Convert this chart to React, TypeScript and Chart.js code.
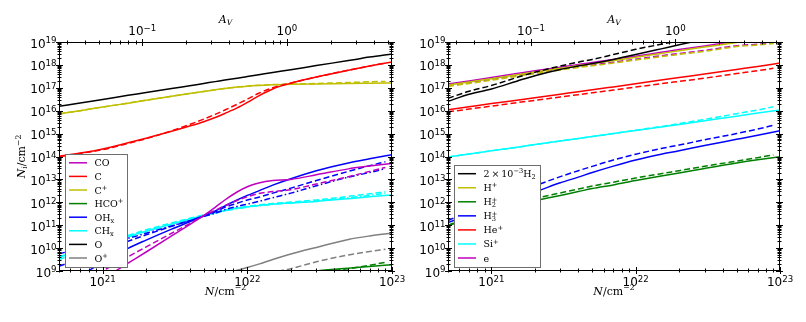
import React, { useEffect, useRef } from 'react';
import { Chart, registerables } from 'chart.js';
Chart.register(...registerables);

// ---------- axes ----------
const N_MIN = 5e20;
const N_MAX = 1e23;
const Y_MIN = 1e9;
const Y_MAX = 1e19;
const N_PER_AV = 1.88e22; // top axis: A_V = N / N_PER_AV
const Y_MAJOR_EXP = [9, 10, 11, 12, 13, 14, 15, 16, 17, 18, 19];
const X_MAJOR_EXP = [20, 21, 22, 23];
const AV_MAJOR_EXP = [-2, -1, 0, 1];

// ---------- column grid (cm^-2) ----------
const N_L = [5e20, 7e20, 1e21, 1.5e21, 2e21, 3e21, 4e21, 5e21, 6e21, 7e21, 8.5e21, 1e22, 1.2e22, 1.5e22, 2e22, 3e22, 5e22, 7e22, 1e23];
const N_LD = [5e20, 7e20, 1e21, 1.5e21, 2e21, 3e21, 4e21, 5e21, 6e21, 7e21, 8.5e21, 1e22, 1.2e22, 1.5e22, 2e22, 3e22, 5e22, 7e22, 9e22];
const N_R = [5e20, 7e20, 1e21, 1.5e21, 2e21, 3e21, 4e21, 5e21, 7e21, 1e22, 1.5e22, 2e22, 3e22, 5e22, 7e22, 1e23];
const N_RD = [5e20, 7e20, 1e21, 1.5e21, 2e21, 3e21, 4e21, 5e21, 7e21, 1e22, 1.5e22, 2e22, 3e22, 5e22, 7e22, 9e22];

// ---------- left panel: log10 N_i ----------
const CO_S = [7.45, 8.02, 8.64, 9.34, 9.83, 10.53, 11.03, 11.42, 11.78, 12.1, 12.45, 12.68, 12.84, 12.95, 13.0, 13.2, 13.46, 13.58, 13.7];
const CO_D = [7.9, 8.45, 9.0, 9.62, 10.05, 10.65, 11.07, 11.42, 11.65, 11.85, 12.08, 12.24, 12.38, 12.47, 12.55, 12.8, 13.12, 13.35, 13.52];
const C_S = [14.01, 14.15, 14.33, 14.6, 14.8, 15.1, 15.33, 15.52, 15.7, 15.88, 16.12, 16.36, 16.65, 16.95, 17.2, 17.47, 17.77, 17.95, 18.13];
const C_D = [13.99, 14.13, 14.3, 14.57, 14.78, 15.12, 15.4, 15.63, 15.84, 16.03, 16.28, 16.5, 16.76, 17.0, 17.21, 17.47, 17.77, 17.95, 18.08];
const CP_S = [15.86, 16.0, 16.16, 16.33, 16.46, 16.63, 16.75, 16.84, 16.91, 16.97, 17.03, 17.07, 17.1, 17.13, 17.15, 17.17, 17.19, 17.2, 17.21];
const CP_D = [15.86, 16.0, 16.16, 16.33, 16.46, 16.63, 16.75, 16.84, 16.91, 16.97, 17.03, 17.07, 17.11, 17.14, 17.16, 17.19, 17.23, 17.26, 17.28];
const HCOP_S = [5.5, 5.8, 6.1, 6.5, 6.8, 7.2, 7.45, 7.65, 7.8, 7.95, 8.15, 8.3, 8.42, 8.55, 8.75, 9.0, 9.12, 9.2, 9.27];
const HCOP_D = [5.4, 5.7, 6.0, 6.4, 6.7, 7.1, 7.35, 7.55, 7.7, 7.85, 8.05, 8.2, 8.32, 8.45, 8.6, 8.9, 9.1, 9.25, 9.38];
const OH_S = [8.3, 8.8, 9.38, 9.99, 10.35, 10.83, 11.15, 11.4, 11.62, 11.84, 12.1, 12.3, 12.5, 12.75, 13.03, 13.38, 13.72, 13.9, 14.08];
const OH_D = [9.2, 9.55, 9.9, 10.3, 10.58, 10.95, 11.2, 11.4, 11.58, 11.78, 11.96, 12.1, 12.22, 12.4, 12.62, 12.95, 13.35, 13.6, 13.77];
const OH_DD = [9.75, 9.98, 10.2, 10.43, 10.65, 10.97, 11.2, 11.38, 11.52, 11.68, 11.82, 11.92, 12.04, 12.2, 12.4, 12.72, 13.1, 13.3, 13.47];
const CH_S = [9.6, 9.9, 10.2, 10.5, 10.75, 11.05, 11.27, 11.42, 11.55, 11.64, 11.74, 11.8, 11.86, 11.92, 11.97, 12.04, 12.16, 12.24, 12.32];
const CH_D = [9.62, 9.93, 10.24, 10.55, 10.8, 11.1, 11.3, 11.45, 11.57, 11.66, 11.76, 11.82, 11.88, 11.95, 12.01, 12.1, 12.26, 12.37, 12.46];
const CH_DD = [9.5, 9.83, 10.15, 10.47, 10.72, 11.03, 11.25, 11.4, 11.52, 11.62, 11.72, 11.79, 11.85, 11.91, 11.97, 12.06, 12.2, 12.3, 12.4];
const O_S = [16.19, 16.34, 16.49, 16.67, 16.79, 16.97, 17.09, 17.19, 17.27, 17.34, 17.42, 17.49, 17.57, 17.67, 17.79, 17.97, 18.19, 18.34, 18.48];
const OP_S = [6.5, 6.8, 7.1, 7.4, 7.65, 8.0, 8.3, 8.55, 8.75, 8.85, 9.03, 9.15, 9.3, 9.5, 9.74, 10.03, 10.38, 10.53, 10.65];
const OP_D = [5.5, 5.8, 6.1, 6.5, 6.8, 7.2, 7.45, 7.6, 7.75, 7.9, 8.1, 8.25, 8.45, 8.9, 9.1, 9.4, 9.7, 9.85, 9.95];

// ---------- right panel: log10 N_i ----------
const H2_S = [16.41, 16.72, 16.95, 17.29, 17.53, 17.8, 17.95, 18.06, 18.24, 18.45, 18.7, 18.88, 19.12, 19.4, 19.55, 19.7];
const H2_D = [16.54, 16.85, 17.1, 17.45, 17.68, 17.95, 18.12, 18.24, 18.45, 18.68, 18.9, 19.05, 19.25, 19.5, 19.65, 19.75];
const HP_S = [17.12, 17.25, 17.4, 17.57, 17.69, 17.85, 17.97, 18.05, 18.19, 18.33, 18.5, 18.62, 18.78, 18.98, 19.1, 19.25];
const HP_D = [17.06, 17.19, 17.33, 17.5, 17.62, 17.78, 17.89, 17.96, 18.08, 18.21, 18.36, 18.46, 18.59, 18.8, 18.87, 18.93];
const H2P_S = [10.97, 11.3, 11.6, 11.9, 12.07, 12.3, 12.47, 12.6, 12.76, 12.95, 13.15, 13.28, 13.48, 13.72, 13.86, 13.99];
const H2P_D = [11.0, 11.35, 11.67, 11.99, 12.17, 12.41, 12.58, 12.71, 12.88, 13.06, 13.25, 13.38, 13.57, 13.8, 13.95, 14.07];
const H3P_S = [11.12, 11.45, 11.8, 12.2, 12.45, 12.85, 13.1, 13.3, 13.58, 13.85, 14.1, 14.25, 14.48, 14.75, 14.93, 15.13];
const H3P_D = [11.2, 11.62, 12.02, 12.45, 12.72, 13.12, 13.38, 13.57, 13.85, 14.1, 14.35, 14.5, 14.73, 15.0, 15.2, 15.36];
const HEP_S = [16.04, 16.17, 16.31, 16.46, 16.57, 16.72, 16.83, 16.91, 17.04, 17.18, 17.34, 17.45, 17.6, 17.8, 17.93, 18.08];
const HEP_D = [15.95, 16.07, 16.2, 16.35, 16.45, 16.6, 16.7, 16.78, 16.9, 17.03, 17.18, 17.28, 17.42, 17.62, 17.75, 17.85];
const SIP_S = [13.98, 14.11, 14.25, 14.4, 14.52, 14.68, 14.79, 14.87, 15.0, 15.14, 15.29, 15.4, 15.56, 15.76, 15.9, 16.03];
const SIP_D = [13.98, 14.11, 14.25, 14.4, 14.52, 14.68, 14.79, 14.87, 15.0, 15.15, 15.31, 15.44, 15.62, 15.87, 16.03, 16.17];
const E_S = [17.17, 17.3, 17.45, 17.62, 17.74, 17.9, 18.02, 18.1, 18.24, 18.38, 18.55, 18.67, 18.83, 19.03, 19.15, 19.3];
const E_D = [17.1, 17.23, 17.37, 17.54, 17.66, 17.82, 17.93, 18.0, 18.12, 18.25, 18.4, 18.5, 18.63, 18.84, 18.9, 18.96];

// ---------- styles ----------
const MAG = '#bf00bf';
const RED = '#ff0000';
const OLIVE = '#bfbf00';
const GREEN = '#008000';
const BLUE = '#0000ff';
const CYAN = '#00ffff';
const BLACK = '#000000';
const GRAY = '#808080';
const SOLID: number[] = [];
const DASHED = [6, 3];
const DASHDOT = [6, 2.5, 1.5, 2.5];
const SERIF = '"DejaVu Serif", serif';
const SANS = '"DejaVu Sans", sans-serif';

type Series = [string, string, number[], number[], number[]];
const LEFT_SERIES: Series[] = [
  ['CO', MAG, SOLID, N_L, CO_S], ['CO', MAG, DASHED, N_LD, CO_D],
  ['C', RED, SOLID, N_L, C_S], ['C', RED, DASHED, N_LD, C_D],
  ['C+', OLIVE, SOLID, N_L, CP_S], ['C+', OLIVE, DASHED, N_LD, CP_D],
  ['HCO+', GREEN, SOLID, N_L, HCOP_S], ['HCO+', GREEN, DASHED, N_LD, HCOP_D],
  ['OHx', BLUE, SOLID, N_L, OH_S], ['OHx', BLUE, DASHED, N_LD, OH_D], ['OHx', BLUE, DASHDOT, N_LD, OH_DD],
  ['CHx', CYAN, SOLID, N_L, CH_S], ['CHx', CYAN, DASHED, N_LD, CH_D], ['CHx', CYAN, DASHDOT, N_LD, CH_DD],
  ['O', BLACK, SOLID, N_L, O_S],
  ['O+', GRAY, SOLID, N_L, OP_S], ['O+', GRAY, DASHED, N_LD, OP_D],
];
const RIGHT_SERIES: Series[] = [
  ['2e-3 H2', BLACK, SOLID, N_R, H2_S], ['2e-3 H2', BLACK, DASHED, N_RD, H2_D],
  ['H+', OLIVE, SOLID, N_R, HP_S], ['H+', OLIVE, DASHED, N_RD, HP_D],
  ['H2+', GREEN, SOLID, N_R, H2P_S], ['H2+', GREEN, DASHED, N_RD, H2P_D],
  ['H3+', BLUE, SOLID, N_R, H3P_S], ['H3+', BLUE, DASHED, N_RD, H3P_D],
  ['He+', RED, SOLID, N_R, HEP_S], ['He+', RED, DASHED, N_RD, HEP_D],
  ['Si+', CYAN, SOLID, N_R, SIP_S], ['Si+', CYAN, DASHED, N_RD, SIP_D],
  ['e', MAG, SOLID, N_R, E_S], ['e', MAG, DASHED, N_RD, E_D],
];
const LEFT_LEGEND: [string, string][] = [
  ['CO', MAG], ['C', RED], ['C^+', OLIVE], ['HCO^+', GREEN], ['OH_x', BLUE], ['CH_x', CYAN], ['O', BLACK], ['O^+', GRAY],
];
const RIGHT_LEGEND: [string, string][] = [
  ['2\u2009\u00d7\u200910^{\u22123}H_2', BLACK], ['H^+', OLIVE], ['H_2^+', GREEN], ['H_3^+', BLUE], ['He^+', RED], ['Si^+', CYAN], ['e', MAG],
];
const X_TITLE = '$N$/cm^{\u22122}';
const Y_TITLE = '$N_i$/cm^{\u22122}';
const TOP_TITLE = '$A_V$';

// ---------- helpers ----------
function isPow10(v: number) {
  const l = Math.log10(v);
  return Math.abs(l - Math.round(l)) < 1e-6;
}
function pow10Label(v: number) {
  const e = Math.round(Math.log10(v));
  return '10^{' + String(e).replace('-', '\u2212') + '}';
}
function logTicks(exps: number[], min: number, max: number) {
  const out: { value: number }[] = [];
  for (const e of exps) {
    for (let m = 1; m <= 9; m++) {
      const v = parseFloat((m * Math.pow(10, e)).toPrecision(8));
      if (v >= min * (1 - 1e-9) && v <= max * (1 + 1e-9)) out.push({ value: v });
    }
  }
  return out;
}

type Seg = { t: string; k: 'n' | 'sub' | 'sup'; it: boolean };
function parseMath(s: string): Seg[] {
  const out: Seg[] = [];
  let it = false;
  let buf = '';
  const flush = () => {
    if (buf) { out.push({ t: buf, k: 'n', it }); buf = ''; }
  };
  for (let i = 0; i < s.length; i++) {
    const c = s[i];
    if (c === '$') { flush(); it = !it; continue; }
    if (c === '^' || c === '_') {
      flush();
      let t = '';
      if (s[i + 1] === '{') { const j = s.indexOf('}', i + 2); t = s.slice(i + 2, j); i = j; }
      else { t = s[i + 1]; i++; }
      out.push({ t, k: c === '^' ? 'sup' : 'sub', it });
      continue;
    }
    buf += c;
  }
  flush();
  return out;
}
type MathOpts = { supRaise?: number; subDrop?: number; scale?: number };
function layoutMath(ctx: CanvasRenderingContext2D, s: string, size: number, family: string, mo: MathOpts = {}) {
  const supRaise = mo.supRaise ?? 0.4;
  const subDrop = mo.subDrop ?? 0.22;
  const scale = mo.scale ?? 0.7;
  const segs = parseMath(s);
  const items: { t: string; x: number; dy: number; font: string }[] = [];
  let x = 0;
  let prev: { k: string; x0: number; x1: number } | null = null;
  for (const g of segs) {
    const fs = g.k === 'n' ? size : size * scale;
    const font = `${g.it ? 'italic ' : ''}${fs}px ${family}`;
    ctx.font = font;
    const w = ctx.measureText(g.t).width;
    let x0 = x;
    if (g.k !== 'n' && prev && prev.k !== 'n' && prev.k !== g.k) {
      x0 = prev.x0;
      x = Math.max(prev.x1, x0 + w);
    } else {
      x = x0 + w;
    }
    const dy = g.k === 'sup' ? -supRaise * size : g.k === 'sub' ? subDrop * size : 0;
    items.push({ t: g.t, x: x0, dy, font });
    prev = { k: g.k, x0, x1: x0 + w };
  }
  return { items, width: x };
}
function drawMath(ctx: CanvasRenderingContext2D, s: string, x: number, y: number, size: number, family: string, align: 'left' | 'center' | 'right', color: string, mo: MathOpts = {}) {
  const { items, width } = layoutMath(ctx, s, size, family, mo);
  const sx = align === 'center' ? x - width / 2 : align === 'right' ? x - width : x;
  ctx.fillStyle = color;
  ctx.textAlign = 'left';
  ctx.textBaseline = 'alphabetic';
  for (const it of items) {
    ctx.font = it.font;
    ctx.fillText(it.t, sx + it.x, y + it.dy);
  }
}

const TICK_MATH: MathOpts = { supRaise: 0.34, scale: 0.72 };

const panelPlugin = {
  id: 'panel',
  afterDatasetsDraw(chart: any, _args: any, opts: any) {
    const ctx: CanvasRenderingContext2D = chart.ctx;
    const a = chart.chartArea;
    // legend
    const entries: [string, string][] = opts.legend;
    const size = 9.5;
    ctx.save();
    let maxW = 0;
    for (const [lab] of entries) maxW = Math.max(maxW, layoutMath(ctx, lab, size, SERIF).width);
    const boxL = Math.round(a.left + 6);
    const boxB = Math.round(a.bottom - 4);
    const rowH: number = opts.rowH;
    const lastY = boxB - 9;
    const firstY = lastY - (entries.length - 1) * rowH;
    const boxT = Math.round(firstY - 9);
    const lineX0 = boxL + 4;
    const lineX1 = lineX0 + 18;
    const textX = lineX1 + 7.5;
    const boxR = Math.round(textX + maxW + 4);
    ctx.fillStyle = '#ffffff';
    ctx.fillRect(boxL, boxT, boxR - boxL, boxB - boxT);
    ctx.strokeStyle = '#6e6e6e';
    ctx.lineWidth = 1;
    ctx.strokeRect(boxL + 0.5, boxT + 0.5, boxR - boxL, boxB - boxT);
    entries.forEach(([lab, col], i) => {
      const y = firstY + i * rowH;
      ctx.strokeStyle = col;
      ctx.lineWidth = 1.5;
      ctx.setLineDash([]);
      ctx.beginPath();
      ctx.moveTo(lineX0, y);
      ctx.lineTo(lineX1, y);
      ctx.stroke();
      drawMath(ctx, lab, textX, y + 3.5, size, SERIF, 'left', '#000');
    });
    // frame
    ctx.strokeStyle = '#000';
    ctx.lineWidth = 1;
    const L = Math.round(a.left) + 0.5, R = Math.round(a.right) - 0.5, T = Math.round(a.top) + 0.5, B = Math.round(a.bottom) - 0.5;
    ctx.strokeRect(L, T, R - L, B - T);
    // tick marks + labels from the chart scales
    const tick = (scale: any, side: string) => {
      for (const t of scale.ticks) {
        const raw = scale.getPixelForValue(t.value);
        const p = Math.round(raw) + 0.5;
        const major = isPow10(t.value);
        const len = major ? 3.5 : 2;
        ctx.beginPath();
        if (side === 'bottom') { ctx.moveTo(p, B - len); ctx.lineTo(p, B + len); }
        else if (side === 'top') { ctx.moveTo(p, T - len); ctx.lineTo(p, T + len); }
        else if (side === 'left') { ctx.moveTo(L - len, p); ctx.lineTo(L + len, p); }
        else { ctx.moveTo(R - len, p); ctx.lineTo(R + len, p); }
        ctx.stroke();
        if (!major || side === 'right') continue;
        const lab = pow10Label(t.value);
        if (side === 'bottom') drawMath(ctx, lab, raw, B + 15.5, 12, SANS, 'center', '#000', TICK_MATH);
        else if (side === 'top') drawMath(ctx, lab, raw, T - 7.5, 12, SANS, 'center', '#000', TICK_MATH);
        else drawMath(ctx, lab, L - 3, raw + 5.5, 12, SANS, 'right', '#000', TICK_MATH);
      }
    };
    tick(chart.scales.x, 'bottom');
    tick(chart.scales.xTop, 'top');
    tick(chart.scales.y, 'left');
    tick(chart.scales.y, 'right');
    ctx.restore();
  },
  afterDraw(chart: any, _args: any, opts: any) {
    const ctx: CanvasRenderingContext2D = chart.ctx;
    const a = chart.chartArea;
    const cx = (a.left + a.right) / 2;
    ctx.save();
    drawMath(ctx, TOP_TITLE, cx, 22.5, 11, SERIF, 'center', '#000');
    drawMath(ctx, X_TITLE, cx, 294.5, 11, SERIF, 'center', '#000');
    if (opts.yTitle) {
      ctx.translate(25, (a.top + a.bottom) / 2);
      ctx.rotate(-Math.PI / 2);
      drawMath(ctx, Y_TITLE, 0, 0, 11, SERIF, 'center', '#000');
    }
    ctx.restore();
  },
};

function makeConfig(series: Series[], legend: [string, string][], rowH: number, yWidth: number, padRight: number, yTitle: boolean): any {
  const fixW = (w: number) => (s: any) => { s.width = w; s.paddingTop = 0; s.paddingBottom = 0; s.paddingLeft = 0; s.paddingRight = 0; };
  const fixH = (h: number) => (s: any) => { s.height = h; s.paddingTop = 0; s.paddingBottom = 0; s.paddingLeft = 0; s.paddingRight = 0; };
  const hiddenTicks = { display: false, autoSkip: false };
  return {
    type: 'line',
    data: {
      datasets: series.map(([label, color, dash, xs, ys]) => ({
        label,
        data: xs.map((x, i) => ({ x, y: Math.pow(10, ys[i]) })),
        borderColor: color,
        borderDash: dash,
        borderWidth: 1.5,
        pointRadius: 0,
        fill: false,
        cubicInterpolationMode: 'monotone',
        xAxisID: 'x',
        yAxisID: 'y',
      })),
    },
    options: {
      animation: false,
      responsive: false,
      maintainAspectRatio: false,
      devicePixelRatio: 1,
      events: [],
      layout: { padding: { left: 0, right: padRight, top: 0, bottom: 0 } },
      plugins: {
        legend: { display: false },
        tooltip: { enabled: false },
        title: { display: false },
        panel: { legend, rowH, yTitle },
      },
      scales: {
        x: {
          type: 'logarithmic', position: 'bottom', min: N_MIN, max: N_MAX,
          grid: { display: false, drawTicks: false }, border: { display: false },
          ticks: hiddenTicks,
          afterBuildTicks: (s: any) => { s.ticks = logTicks(X_MAJOR_EXP, N_MIN, N_MAX); },
          afterFit: fixH(51),
        },
        xTop: {
          type: 'logarithmic', position: 'top', min: N_MIN / N_PER_AV, max: N_MAX / N_PER_AV,
          grid: { display: false, drawTicks: false }, border: { display: false },
          ticks: hiddenTicks,
          afterBuildTicks: (s: any) => { s.ticks = logTicks(AV_MAJOR_EXP, N_MIN / N_PER_AV, N_MAX / N_PER_AV); },
          afterFit: fixH(42),
        },
        y: {
          type: 'logarithmic', position: 'left', min: Y_MIN, max: Y_MAX,
          grid: { display: false, drawTicks: false }, border: { display: false },
          ticks: hiddenTicks,
          afterBuildTicks: (s: any) => { s.ticks = logTicks(Y_MAJOR_EXP, Y_MIN, Y_MAX); },
          afterFit: fixW(yWidth),
        },
      },
    },
    plugins: [panelPlugin],
  };
}

export default function App() {
  const leftRef = useRef<HTMLCanvasElement>(null);
  const rightRef = useRef<HTMLCanvasElement>(null);
  useEffect(() => {
    const c1 = new Chart(leftRef.current as HTMLCanvasElement, makeConfig(LEFT_SERIES, LEFT_LEGEND, 13.6, 59, 18, true));
    const c2 = new Chart(rightRef.current as HTMLCanvasElement, makeConfig(RIGHT_SERIES, RIGHT_LEGEND, 14.05, 48, 26, false));
    return () => { c1.destroy(); c2.destroy(); };
  }, []);
  return (
    <div style={{ position: 'fixed', left: 0, top: 0, width: 806, height: 322, background: '#ffffff' }}>
      <canvas ref={rightRef} width={406} height={322} style={{ position: 'absolute', left: 400, top: 0, width: 406, height: 322, zIndex: 1 }} />
      <canvas ref={leftRef} width={410} height={322} style={{ position: 'absolute', left: 0, top: 0, width: 410, height: 322, zIndex: 2 }} />
    </div>
  );
}
